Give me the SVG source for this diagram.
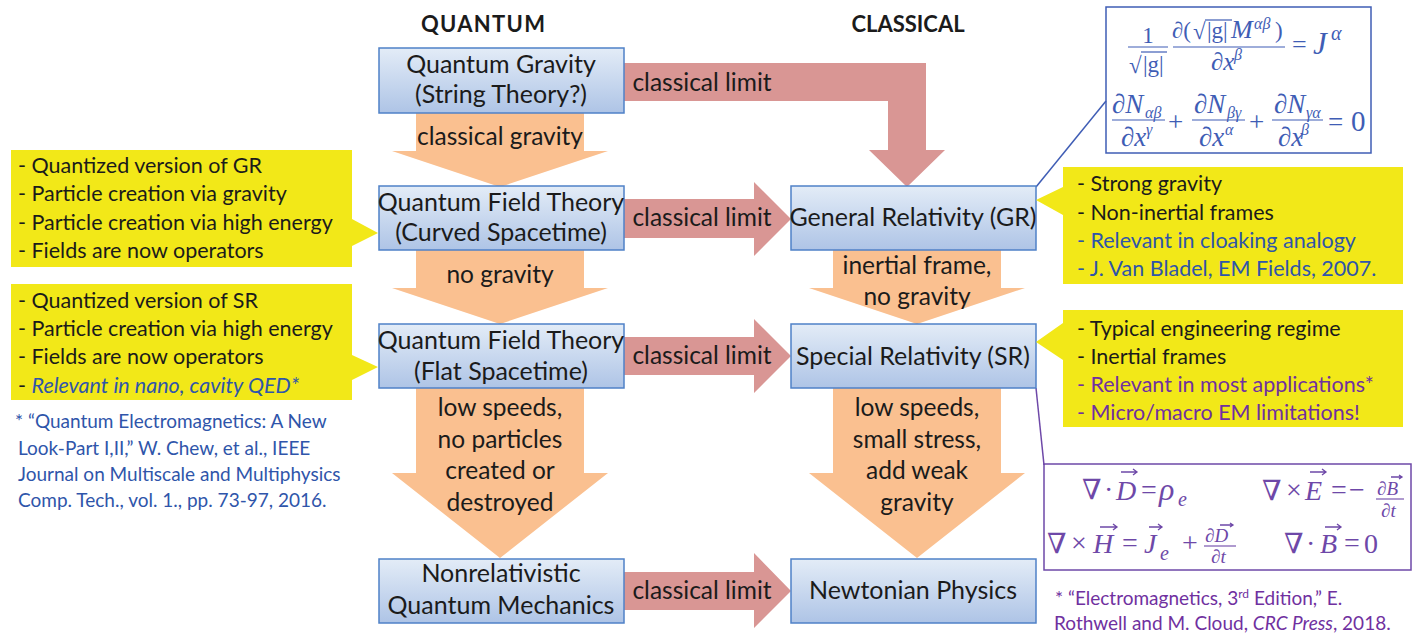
<svg xmlns="http://www.w3.org/2000/svg" width="1421" height="635" viewBox="0 0 1421 635">
<defs>
<linearGradient id="nodeGrad" x1="0" y1="0" x2="0" y2="1">
<stop offset="0" stop-color="#E3ECF7"/>
<stop offset="1" stop-color="#AEC4E6"/>
</linearGradient>
</defs>
<style>
.node rect{fill:url(#nodeGrad);stroke:#4F81C7;stroke-width:1.5}
.nt{font-family:Lato,"Noto Sans",sans-serif;font-size:25px;fill:#1b1b1b;text-anchor:middle}
.lbl{font-family:Lato,"Noto Sans",sans-serif;font-size:24.5px;fill:#1b1b1b;text-anchor:middle}
.head{font-family:Lato,"Noto Sans",sans-serif;font-size:22px;font-weight:bold;fill:#1b1b1b;text-anchor:middle}
.peach{fill:#FAC090}
.rose{fill:#D99694}
.call{fill:#F2E818}
.ct{font-family:Lato,"Noto Sans",sans-serif;font-size:21.5px;fill:#1b1b1b}
.blue{fill:#2F55AA}
.purple{fill:#7030A0}
.cite{font-family:Lato,"Noto Sans",sans-serif;font-size:19px}
.eq{font-family:"Liberation Serif","DejaVu Serif",serif}
.eqb{fill:#3F5DB5}
.eqp{fill:#6E48A8}
.it{font-style:italic}
.vec{fill:none;stroke:#6E48A8;stroke-width:1.3}
.bar{stroke:#3F5DB5;stroke-width:1.2}
.barp{stroke:#6E48A8;stroke-width:1.1}
</style>

<text class="head" x="483" y="32" textLength="124" lengthAdjust="spacing">QUANTUM</text>
<text class="head" x="908" y="32">CLASSICAL</text>

<g id="connectors">
<polygon class="rose" points="624,63 926,63 926,150 945,150 907,187 869,150 888,150 888,101 624,101"/>
<polygon class="peach" points="416,113 584,113 584,151 608,151 500,187 392,151 416,151"/>
<polygon class="peach" points="416,250 584,250 584,288 608,288 500,324 392,288 416,288"/>
<polygon class="peach" points="416,388 584,388 584,473 608,473 500,558 392,473 416,473"/>
<polygon class="peach" points="833,250 1001,250 1001,288 1025,288 917,324 809,288 833,288"/>
<polygon class="peach" points="833,388 1001,388 1001,473 1025,473 917,558 809,473 833,473"/>
<polygon class="rose" points="624,199 754,199 754,182 791,219 754,256 754,238 624,238"/>
<polygon class="rose" points="624,337 754,337 754,319 791,356 754,393 754,375 624,375"/>
<polygon class="rose" points="624,572 754,572 754,553 791,591 754,628 754,610 624,610"/>
<line x1="1036" y1="187" x2="1106" y2="101" stroke="#3F5DB5" stroke-width="1.5"/>
<line x1="1036" y1="388" x2="1044" y2="465" stroke="#6E48A8" stroke-width="1.5"/>
<text class="lbl" x="702" y="91">classical limit</text>
<text class="lbl" x="500" y="145">classical gravity</text>
<text class="lbl" x="702" y="226">classical limit</text>
<text class="lbl" x="500" y="283">no gravity</text>
<text class="lbl" x="917" y="274">inertial frame,</text>
<text class="lbl" x="917" y="305">no gravity</text>
<text class="lbl" x="702" y="364">classical limit</text>
<text class="lbl" x="500" y="416">low speeds,</text>
<text class="lbl" x="500" y="448">no particles</text>
<text class="lbl" x="500" y="479">created or</text>
<text class="lbl" x="500" y="511">destroyed</text>
<text class="lbl" x="917" y="416">low speeds,</text>
<text class="lbl" x="917" y="448">small stress,</text>
<text class="lbl" x="917" y="479">add weak</text>
<text class="lbl" x="917" y="511">gravity</text>
<text class="lbl" x="702" y="599">classical limit</text>
</g>

<g id="quantum-gravity" class="node">
<rect x="379" y="48" width="245" height="65"/>
<text class="nt" x="501" y="73">Quantum Gravity</text>
<text class="nt" x="501" y="103">(String Theory?)</text>
</g>
<g id="qft-curved" class="node">
<rect x="379" y="186" width="245" height="64"/>
<text class="nt" x="501" y="211">Quantum Field Theory</text>
<text class="nt" x="501" y="241">(Curved Spacetime)</text>
</g>
<g id="qft-flat" class="node">
<rect x="379" y="324" width="245" height="64"/>
<text class="nt" x="501" y="349">Quantum Field Theory</text>
<text class="nt" x="501" y="380">(Flat Spacetime)</text>
</g>
<g id="nonrel-qm" class="node">
<rect x="379" y="559" width="245" height="64"/>
<text class="nt" x="501" y="582">Nonrelativistic</text>
<text class="nt" x="501" y="614">Quantum Mechanics</text>
</g>
<g id="general-relativity" class="node">
<rect x="791" y="186" width="245" height="64"/>
<text class="nt" x="913" y="226">General Relativity (GR)</text>
</g>
<g id="special-relativity" class="node">
<rect x="791" y="324" width="245" height="64"/>
<text class="nt" x="913" y="365">Special Relativity (SR)</text>
</g>
<g id="newtonian" class="node">
<rect x="791" y="559" width="245" height="64"/>
<text class="nt" x="913" y="599">Newtonian Physics</text>
</g>

<g id="callout-qft-curved">
<path class="call" d="M11,150 H352 V219 L378,233 L352,246 V267 H11 Z"/>
<text class="ct" x="18" y="173">- Quantized version of GR</text>
<text class="ct" x="18" y="201">- Particle creation via gravity</text>
<text class="ct" x="18" y="230">- Particle creation via high energy</text>
<text class="ct" x="18" y="258">- Fields are now operators</text>
</g>
<g id="callout-qft-flat">
<path class="call" d="M11,284 H352 V355 L378,367 L352,380 V400 H11 Z"/>
<text class="ct" x="18" y="308">- Quantized version of SR</text>
<text class="ct" x="18" y="336">- Particle creation via high energy</text>
<text class="ct" x="18" y="364">- Fields are now operators</text>
<text class="ct" x="18" y="393">- <tspan class="blue" font-style="italic">Relevant in nano, cavity QED*</tspan></text>
</g>
<g id="callout-gr">
<path class="call" d="M1063,167 H1403 V284 H1063 V215 L1036,200 L1063,187 Z"/>
<text class="ct" x="1077" y="191">- Strong gravity</text>
<text class="ct" x="1077" y="220">- Non-inertial frames</text>
<text class="ct blue" x="1077" y="248">- Relevant in cloaking analogy</text>
<text class="ct blue" x="1077" y="276">- J. Van Bladel, EM Fields, 2007.</text>
</g>
<g id="callout-sr">
<path class="call" d="M1063,310 H1403 V427 H1063 V360 L1036,342 L1063,323 Z"/>
<text class="ct" x="1077" y="336">- Typical engineering regime</text>
<text class="ct" x="1077" y="364">- Inertial frames</text>
<text class="ct purple" x="1077" y="392">- Relevant in most applications*</text>
<text class="ct purple" x="1077" y="420">- Micro/macro EM limitations!</text>
</g>

<g id="citation-chew" class="cite blue">
<text x="15" y="428">* “Quantum Electromagnetics: A New</text>
<text x="18" y="455">Look-Part I,II,” W. Chew, et al., IEEE</text>
<text x="18" y="481">Journal on Multiscale and Multiphysics</text>
<text x="18" y="507">Comp. Tech., vol. 1., pp. 73-97, 2016.</text>
</g>
<g id="citation-rothwell" class="cite purple">
<text x="1055" y="605">* “Electromagnetics, 3<tspan font-size="12" dy="-7">rd</tspan><tspan dy="7"> Edition,” E.</tspan></text>
<text x="1054" y="630">Rothwell and M. Cloud, <tspan font-style="italic">CRC Press</tspan>, 2018.</text>
</g>

<g id="gr-equations">
<rect x="1106" y="7" width="265" height="146" fill="none" stroke="#3F5DB5" stroke-width="1.5"/>
<g class="eq eqb" font-size="23">
<text x="1148" y="43" text-anchor="middle">1</text>
<line class="bar" x1="1128" y1="47" x2="1168" y2="47"/>
<text x="1129" y="73">√</text>
<line class="bar" x1="1141" y1="52" x2="1167" y2="52"/>
<text x="1143" y="72">|g|</text>
<text x="1172" y="38">∂(</text>
<text x="1193" y="39">√</text>
<line class="bar" x1="1205" y1="20" x2="1232" y2="20"/>
<text x="1207" y="38">|g|</text>
<text x="1231" y="38" class="it" font-size="26">M</text>
<text x="1254" y="29" class="it" font-size="16">αβ</text>
<text x="1275" y="38">)</text>
<line class="bar" x1="1173" y1="47" x2="1285" y2="47"/>
<text x="1211" y="70" class="it" font-size="25">∂x</text>
<text x="1234" y="60" class="it" font-size="16">β</text>
<text x="1292" y="53" font-size="26">=</text>
<text x="1313" y="54" class="it" font-size="31">J</text>
<text x="1331" y="40" class="it" font-size="20">α</text>
</g>
<g class="eq eqb" font-size="27">
<text x="1112" y="113" class="it">∂N</text>
<text x="1145" y="118" class="it" font-size="16">αβ</text>
<line class="bar" x1="1112" y1="120" x2="1165" y2="120"/>
<text x="1121" y="146" class="it">∂x</text>
<text x="1146" y="135" class="it" font-size="16">γ</text>
<text x="1168" y="131">+</text>
<text x="1194" y="113" class="it">∂N</text>
<text x="1227" y="118" class="it" font-size="16">βγ</text>
<line class="bar" x1="1192" y1="120" x2="1245" y2="120"/>
<text x="1199" y="146" class="it">∂x</text>
<text x="1225" y="135" class="it" font-size="16">α</text>
<text x="1249" y="131">+</text>
<text x="1274" y="113" class="it">∂N</text>
<text x="1306" y="118" class="it" font-size="16">γα</text>
<line class="bar" x1="1272" y1="120" x2="1323" y2="120"/>
<text x="1278" y="146" class="it">∂x</text>
<text x="1301" y="135" class="it" font-size="16">β</text>
<text x="1328" y="131">=</text>
<text x="1351" y="131" font-size="29">0</text>
</g>
</g>

<g id="maxwell-equations">
<rect x="1044" y="464" width="367" height="106" fill="none" stroke="#6E48A8" stroke-width="1.5"/>
<g class="eq eqp" font-size="28">
<text x="1082" y="499">∇</text>
<text x="1104" y="499">·</text>
<text x="1116" y="500" class="it">D</text>
<path class="vec" d="M1121,472 H1137 M1133,469 L1137,472 L1133,475"/>
<text x="1141" y="499">=</text>
<text x="1159" y="500" class="it" font-size="32">ρ</text>
<text x="1178" y="506" class="it" font-size="20">e</text>

<text x="1262" y="500">∇</text>
<text x="1286" y="499">×</text>
<text x="1305" y="500" class="it">E</text>
<path class="vec" d="M1310,472 H1326 M1322,469 L1326,472 L1322,475"/>
<text x="1331" y="499">=</text>
<text x="1349" y="499">−</text>
<g font-size="19">
<text x="1377" y="495">∂<tspan class="it">B</tspan></text>
<path class="vec" d="M1391,477 H1402 M1399,475 L1402,477 L1399,479"/>
<line class="barp" x1="1376" y1="499" x2="1404" y2="499"/>
<text x="1381" y="517">∂<tspan class="it">t</tspan></text>
</g>

<text x="1047" y="553">∇</text>
<text x="1071" y="552">×</text>
<text x="1093" y="553" class="it">H</text>
<path class="vec" d="M1100,527 H1117 M1113,524 L1117,527 L1113,530"/>
<text x="1122" y="552">=</text>
<text x="1144" y="553" class="it">J</text>
<path class="vec" d="M1149,527 H1162 M1158,524 L1162,527 L1158,530"/>
<text x="1160" y="560" class="it" font-size="20">e</text>
<text x="1182" y="552">+</text>
<g font-size="19">
<text x="1205" y="542">∂<tspan class="it">D</tspan></text>
<path class="vec" d="M1220,525 H1233 M1230,523 L1233,525 L1230,527"/>
<line class="barp" x1="1204" y1="546" x2="1236" y2="546"/>
<text x="1211" y="563">∂<tspan class="it">t</tspan></text>
</g>

<text x="1284" y="553">∇</text>
<text x="1306" y="553">·</text>
<text x="1320" y="553" class="it">B</text>
<path class="vec" d="M1325,527 H1341 M1337,524 L1341,527 L1337,530"/>
<text x="1344" y="552">=</text>
<text x="1364" y="553">0</text>
</g>
</g>
</svg>
